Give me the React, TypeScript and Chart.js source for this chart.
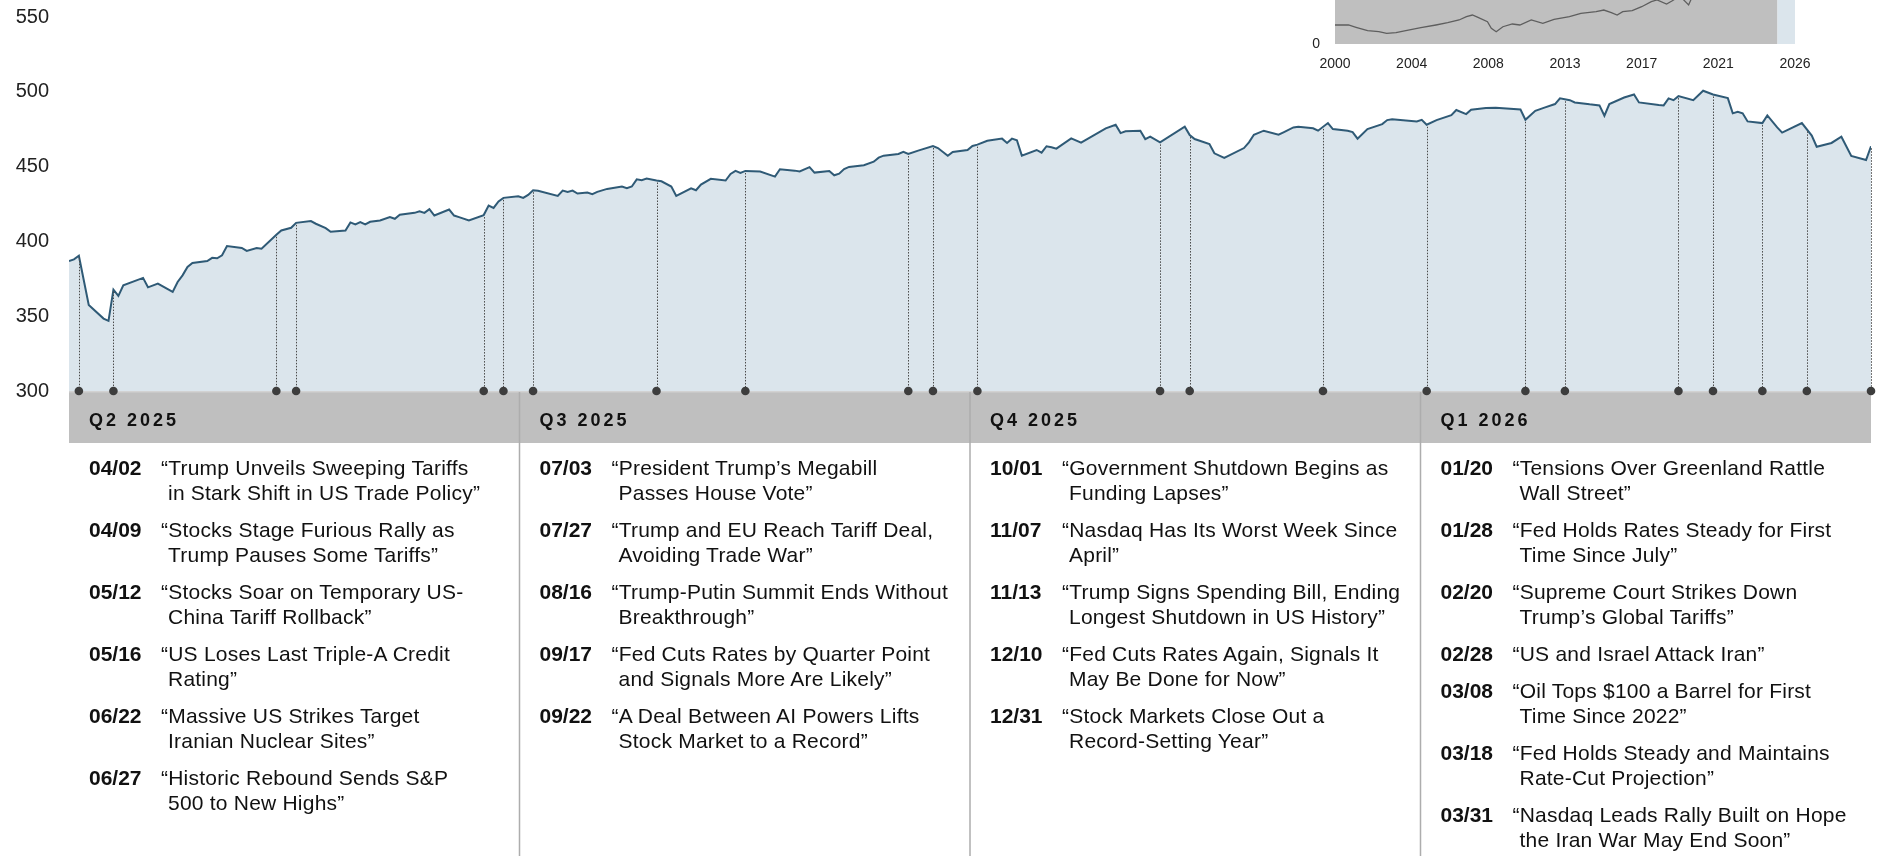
import React, { useEffect, useRef } from "react";
import { Chart, registerables } from "chart.js";

Chart.register(...registerables);

const FONT = '"Liberation Sans", Arial, Helvetica, sans-serif';

// ---------- main series ----------
const priceDates = [
  "2025-03-31","2025-04-01","2025-04-02","2025-04-04","2025-04-07","2025-04-08","2025-04-09","2025-04-10","2025-04-11","2025-04-15",
  "2025-04-16","2025-04-18","2025-04-21","2025-04-22","2025-04-23","2025-04-24","2025-04-25","2025-04-28","2025-04-29","2025-04-30",
  "2025-05-01","2025-05-02","2025-05-05","2025-05-06","2025-05-08","2025-05-09","2025-05-12","2025-05-13","2025-05-15","2025-05-16",
  "2025-05-19","2025-05-20","2025-05-22","2025-05-23","2025-05-26","2025-05-27","2025-05-28","2025-05-29","2025-05-30","2025-05-31",
  "2025-06-02","2025-06-04","2025-06-05","2025-06-06","2025-06-09","2025-06-10","2025-06-11","2025-06-12","2025-06-13","2025-06-16",
  "2025-06-17","2025-06-18","2025-06-20","2025-06-23","2025-06-24","2025-06-25","2025-06-26","2025-06-27","2025-06-30","2025-07-01",
  "2025-07-02","2025-07-03","2025-07-04","2025-07-08","2025-07-09","2025-07-10","2025-07-11","2025-07-12","2025-07-14","2025-07-15",
  "2025-07-16","2025-07-18","2025-07-21","2025-07-22","2025-07-23","2025-07-24","2025-07-25","2025-07-26","2025-07-28","2025-07-29",
  "2025-07-31","2025-08-01","2025-08-04","2025-08-05","2025-08-06","2025-08-08","2025-08-11","2025-08-12","2025-08-13","2025-08-14",
  "2025-08-15","2025-08-18","2025-08-21","2025-08-22","2025-08-25","2025-08-26","2025-08-28","2025-08-29","2025-09-01","2025-09-02",
  "2025-09-03","2025-09-04","2025-09-05","2025-09-08","2025-09-10","2025-09-11","2025-09-12","2025-09-15","2025-09-16","2025-09-17",
  "2025-09-19","2025-09-22","2025-09-23","2025-09-25","2025-09-26","2025-09-29","2025-09-30","2025-10-01","2025-10-03","2025-10-06",
  "2025-10-07","2025-10-08","2025-10-09","2025-10-10","2025-10-13","2025-10-14","2025-10-15","2025-10-16","2025-10-17","2025-10-20",
  "2025-10-22","2025-10-27","2025-10-29","2025-10-30","2025-10-31","2025-11-03","2025-11-04","2025-11-05","2025-11-07","2025-11-12",
  "2025-11-13","2025-11-14","2025-11-17","2025-11-18","2025-11-20","2025-11-24","2025-11-25","2025-11-26","2025-11-28","2025-12-01",
  "2025-12-02","2025-12-04","2025-12-05","2025-12-08","2025-12-09","2025-12-11","2025-12-12","2025-12-15","2025-12-16","2025-12-17",
  "2025-12-19","2025-12-22","2025-12-23","2025-12-24","2025-12-29","2025-12-30","2025-12-31","2026-01-02","2026-01-05","2026-01-06",
  "2026-01-08","2026-01-09","2026-01-12","2026-01-14","2026-01-19","2026-01-20","2026-01-22","2026-01-24","2026-01-26","2026-01-27",
  "2026-01-29","2026-01-30","2026-02-02","2026-02-04","2026-02-05","2026-02-06","2026-02-09","2026-02-11","2026-02-12","2026-02-16",
  "2026-02-17","2026-02-18","2026-02-19","2026-02-20","2026-02-23","2026-02-25","2026-02-27","2026-03-02","2026-03-03","2026-03-04",
  "2026-03-05","2026-03-06","2026-03-09","2026-03-10","2026-03-12","2026-03-13","2026-03-17","2026-03-19","2026-03-20","2026-03-23",
  "2026-03-25","2026-03-27","2026-03-30","2026-03-31"
];

const priceValues = [
  386.9,388.0,390.4,357.5,348.4,346.9,367.8,363.6,370.7,375.6,
  369.3,371.8,366.2,372.9,377.3,382.9,385.6,386.9,389.0,388.7,
  390.7,396.9,395.6,393.6,395.6,395.1,404.4,407.3,409.1,412.4,
  413.6,411.8,408.9,406.4,407.3,412.7,411.3,412.9,411.3,413.1,
  414.0,416.2,415.1,417.8,419.1,420.2,419.1,421.5,417.3,421.3,
  417.3,416.2,414.0,417.6,424.0,422.4,426.7,429.1,430.2,429.1,
  431.1,434.2,433.8,430.4,434.0,433.1,434.0,432.0,432.7,431.6,
  433.1,435.1,436.7,435.5,436.7,441.5,440.9,442.0,440.7,440.2,
  436.7,430.4,435.5,434.2,438.0,441.8,440.7,445.1,447.1,445.8,
  447.1,446.7,443.3,448.2,447.3,446.7,449.6,446.0,447.1,444.2,
  445.3,448.4,449.8,450.9,453.3,456.0,457.3,458.4,459.8,458.4,
  460.7,463.8,462.4,457.3,459.8,461.1,463.8,464.7,467.3,468.7,
  465.8,468.7,467.6,457.3,461.1,459.3,463.6,462.9,462.0,468.9,
  466.0,475.6,478.0,472.4,473.6,474.0,468.4,470.0,466.2,476.7,
  471.1,468.4,465.1,458.9,455.8,462.4,466.2,471.3,474.0,471.3,
  472.9,476.2,476.7,475.6,474.0,479.1,475.1,474.0,473.1,468.7,
  475.1,478.4,481.1,481.6,480.2,481.3,478.0,481.1,484.4,487.8,
  485.1,488.0,489.1,489.3,488.2,481.3,487.3,489.6,491.8,495.6,
  494.4,492.9,491.6,490.9,484.0,491.8,496.2,498.2,492.9,491.1,
  490.9,495.6,494.4,497.1,494.4,500.7,498.2,495.8,485.6,486.7,
  485.6,480.2,479.1,484.2,476.2,472.7,479.1,470.7,463.3,465.8,
  470.0,457.1,454.4,463.6
];

const yTickValues = [300, 350, 400, 450, 500, 550];

const quarterLabels = ["Q2 2025", "Q3 2025", "Q4 2025", "Q1 2026"];

// trading day where each event is marked on the chart
const eventPlotDates = [
  "2025-04-02","2025-04-09","2025-05-12","2025-05-16","2025-06-23","2025-06-27",
  "2025-07-03","2025-07-28","2025-08-15","2025-09-17","2025-09-22",
  "2025-10-01","2025-11-07","2025-11-13","2025-12-10","2025-12-31",
  "2026-01-20","2026-01-28","2026-02-20","2026-02-27","2026-03-09","2026-03-18","2026-03-31"
];
const eventLabels = [
  "04/02","04/09","05/12","05/16","06/22","06/27",
  "07/03","07/27","08/16","09/17","09/22",
  "10/01","11/07","11/13","12/10","12/31",
  "01/20","01/28","02/20","02/28","03/08","03/18","03/31"
];
const eventHeadlines = [
  "“Trump Unveils Sweeping Tariffs\nin Stark Shift in US Trade Policy”",
  "“Stocks Stage Furious Rally as\nTrump Pauses Some Tariffs”",
  "“Stocks Soar on Temporary US-\nChina Tariff Rollback”",
  "“US Loses Last Triple-A Credit\nRating”",
  "“Massive US Strikes Target\nIranian Nuclear Sites”",
  "“Historic Rebound Sends S&P\n500 to New Highs”",
  "“President Trump’s Megabill\nPasses House Vote”",
  "“Trump and EU Reach Tariff Deal,\nAvoiding Trade War”",
  "“Trump-Putin Summit Ends Without\nBreakthrough”",
  "“Fed Cuts Rates by Quarter Point\nand Signals More Are Likely”",
  "“A Deal Between AI Powers Lifts\nStock Market to a Record”",
  "“Government Shutdown Begins as\nFunding Lapses”",
  "“Nasdaq Has Its Worst Week Since\nApril”",
  "“Trump Signs Spending Bill, Ending\nLongest Shutdown in US History”",
  "“Fed Cuts Rates Again, Signals It\nMay Be Done for Now”",
  "“Stock Markets Close Out a\nRecord-Setting Year”",
  "“Tensions Over Greenland Rattle\nWall Street”",
  "“Fed Holds Rates Steady for First\nTime Since July”",
  "“Supreme Court Strikes Down\nTrump’s Global Tariffs”",
  "“US and Israel Attack Iran”",
  "“Oil Tops $100 a Barrel for First\nTime Since 2022”",
  "“Fed Holds Steady and Maintains\nRate-Cut Projection”",
  "“Nasdaq Leads Rally Built on Hope\nthe Iran War May End Soon”"
];
const eventQuarter = [0,0,0,0,0,0, 1,1,1,1,1, 2,2,2,2,2, 3,3,3,3,3,3,3];

// ---------- inset (long history) ----------
const insetYears = [
  2000.0,2000.77,2001.2,2001.86,2002.5,2002.95,2003.48,2004.04,2004.9,2005.76,
  2006.43,2007.08,2007.5,2007.84,2008.16,2008.7,2008.92,2009.2,2009.58,2010.12,
  2010.55,2011.2,2011.86,2012.5,2013.38,2014.03,2014.9,2015.34,2015.77,2016.1,
  2016.42,2016.96,2017.5,2018.05,2018.38,2018.92,2019.25,2019.68,2020.18,2020.43,
  2021.0,2022.0,2023.0,2024.0,2025.2
];
const insetValues = [
  39.6,39.6,34.8,27.7,25.6,22.3,23.5,27.7,34.0,39.6,
  44.4,50.0,56.9,60.4,55.6,46.5,32.7,25.6,36.0,41.7,
  39.6,50.0,43.1,51.5,56.9,64.0,67.3,70.8,65.2,60.4,
  67.3,69.4,77.7,88.1,91.7,83.3,90.2,100.0,81.3,102.0,
  115.0,150.0,130.0,165.0,190.0
];
const insetTickLabels = ["2000", "2004", "2008", "2013", "2017", "2021", "2026"];
const insetYTicks = [0, 100];

// ---------- helpers ----------
const START = Date.UTC(2025, 2, 31);
const dayOf = (iso: string) => {
  const [y, m, d] = iso.split("-").map(Number);
  return Math.round((Date.UTC(y, m - 1, d) - START) / 86400000);
};
const pricePoints = priceDates.map((d, i) => ({ x: dayOf(d), y: priceValues[i] }));
const valueAt = (day: number) => {
  for (let i = 1; i < pricePoints.length; i++) {
    const a = pricePoints[i - 1], b = pricePoints[i];
    if (day <= b.x) {
      const t = (day - a.x) / (b.x - a.x || 1);
      return a.y + t * (b.y - a.y);
    }
  }
  return pricePoints[pricePoints.length - 1].y;
};

const LINE = "#2f5a76";
const FILL = "#dbe5ec";
const BAND = "#bfbfbf";
const BAND_H = 52;

const mainPlugin = {
  id: "bandAndConnectors",
  beforeDatasetsDraw(chart: any) {
    const { ctx, chartArea } = chart;
    const { left, right, bottom } = chartArea;
    ctx.save();
    ctx.fillStyle = BAND;
    ctx.fillRect(left, bottom, right - left, BAND_H);
    ctx.fillStyle = "#d2d2d2";
    ctx.fillRect(left, bottom, right - left, 1.5);
    const w = (right - left) / 4;
    ctx.strokeStyle = "#adadad";
    ctx.lineWidth = 1.5;
    for (let i = 1; i < 4; i++) {
      const x = left + i * w;
      ctx.beginPath();
      ctx.moveTo(x, bottom + 1);
      ctx.lineTo(x, chart.height);
      ctx.stroke();
    }
    ctx.restore();
  },
  afterDatasetDraw(chart: any, args: any) {
    if (args.index !== 0) return;
    const { ctx, chartArea, scales } = chart;
    ctx.save();
    ctx.strokeStyle = "#4a4a4a";
    ctx.lineWidth = 1;
    ctx.setLineDash([1.5, 1.5]);
    eventPlotDates.forEach((d) => {
      const day = dayOf(d);
      const x = Math.round(scales.x.getPixelForValue(day)) + 0.5;
      const y = scales.y.getPixelForValue(valueAt(day)) + 2;
      ctx.beginPath();
      ctx.moveTo(x, y);
      ctx.lineTo(x, chartArea.bottom);
      ctx.stroke();
    });
    ctx.restore();
  },
};

const insetPlugin = {
  id: "insetBg",
  beforeDatasetsDraw(chart: any) {
    const { ctx, chartArea, scales } = chart;
    const xs = scales.x;
    const cut = xs.getPixelForValue(2025.25);
    ctx.save();
    ctx.fillStyle = BAND;
    ctx.fillRect(chartArea.left, chartArea.top, cut - chartArea.left, chartArea.bottom - chartArea.top);
    ctx.fillStyle = FILL;
    ctx.fillRect(cut, chartArea.top, chartArea.right - cut, chartArea.bottom - chartArea.top);
    ctx.restore();
  },
};

export default function App() {
  const mainRef = useRef<HTMLCanvasElement>(null);
  const insetRef = useRef<HTMLCanvasElement>(null);

  useEffect(() => {
    const main = new Chart(mainRef.current as HTMLCanvasElement, {
      type: "line",
      data: {
        datasets: [
          {
            type: "line",
            data: pricePoints,
            borderColor: LINE,
            borderWidth: 2,
            backgroundColor: FILL,
            fill: "start",
            pointRadius: 0,
            tension: 0,
            order: 2,
          } as any,
          {
            type: "scatter",
            data: eventPlotDates.map((d) => ({ x: dayOf(d), y: 300 })),
            pointRadius: 4.3,
            pointBackgroundColor: "#3d3d3d",
            pointBorderWidth: 0,
            clip: false,
            order: 0,
          } as any,
        ],
      },
      options: {
        responsive: false,
        maintainAspectRatio: false,
        animation: false,
        layout: { padding: { top: 17, right: 6, bottom: 465, left: 0 } },
        plugins: { legend: { display: false }, tooltip: { enabled: false } },
        scales: {
          x: { type: "linear", min: 0, max: 365, display: false },
          y: {
            min: 300,
            max: 550,
            afterBuildTicks: (s: any) => {
              s.ticks = yTickValues.map((v) => ({ value: v }));
            },
            afterFit: (s: any) => {
              s.width = 69;
            },
            grid: { display: false, drawTicks: true, tickLength: 20 },
            border: { display: false },
            ticks: { padding: 0, color: "#222", font: { family: FONT, size: 20 } },
          },
        },
      } as any,
      plugins: [mainPlugin],
    });

    const inset = new Chart(insetRef.current as HTMLCanvasElement, {
      type: "line",
      data: {
        datasets: [
          {
            data: insetYears.map((x, i) => ({ x, y: insetValues[i] })),
            borderColor: "#5e5e5e",
            borderWidth: 1.3,
            pointRadius: 0,
            fill: false,
            tension: 0,
          },
        ],
      },
      options: {
        responsive: false,
        maintainAspectRatio: false,
        animation: false,
        layout: { padding: { top: 20, right: 82, bottom: 0, left: 0 } },
        plugins: { legend: { display: false }, tooltip: { enabled: false } },
        scales: {
          x: {
            type: "linear",
            min: 2000,
            max: 2026.25,
            afterBuildTicks: (s: any) => {
              s.ticks = insetTickLabels.map((_, i) => ({ value: 2000 + i * 4.375 }));
            },
            afterFit: (s: any) => {
              s.height = 36;
            },
            grid: { display: false, drawTicks: false },
            border: { display: false },
            ticks: {
              padding: 12,
              autoSkip: false,
              maxRotation: 0,
              color: "#222",
              font: { family: FONT, size: 14 },
              callback: (_v: any, i: number) => insetTickLabels[i],
            },
          },
          y: {
            min: 0,
            max: 300,
            afterBuildTicks: (s: any) => {
              s.ticks = insetYTicks.map((v) => ({ value: v }));
            },
            afterFit: (s: any) => {
              s.width = 55;
            },
            grid: { display: false, drawTicks: true, tickLength: 15 },
            border: { display: false },
            ticks: { padding: 0, color: "#222", font: { family: FONT, size: 14 } },
          },
        },
      } as any,
      plugins: [insetPlugin],
    });

    return () => {
      main.destroy();
      inset.destroy();
    };
  }, []);

  const qLeft = (i: number) => 69 + i * ((1871 - 69) / 4) + 20;

  return (
    <div
      style={{
        position: "absolute",
        left: 0,
        top: 0,
        width: 1877,
        height: 856,
        overflow: "hidden",
        background: "#fff",
        fontFamily: FONT,
        color: "#111",
      }}
    >
      <canvas ref={mainRef} width={1877} height={856} style={{ position: "absolute", left: 0, top: 0, width: 1877, height: 856 }} />
      <canvas ref={insetRef} width={597} height={200} style={{ position: "absolute", left: 1280, top: -120, width: 597, height: 200 }} />
      {quarterLabels.map((q, i) => (
        <div
          key={q}
          style={{
            position: "absolute",
            left: qLeft(i),
            top: 394,
            height: BAND_H,
            lineHeight: BAND_H + "px",
            fontSize: 18,
            fontWeight: "bold",
            letterSpacing: 3,
            color: "#111",
            whiteSpace: "pre",
          }}
        >
          {q}
        </div>
      ))}
      {quarterLabels.map((q, qi) => (
        <div key={"col" + q} style={{ position: "absolute", left: qLeft(qi), top: 455, fontSize: 21, lineHeight: "25px" }}>
          {eventLabels.map((lab, i) =>
            eventQuarter[i] !== qi ? null : (
              <div key={lab} style={{ display: "flex", marginBottom: 12 }}>
                <div style={{ width: 72, flex: "none", fontWeight: "bold", color: "#111" }}>{lab}</div>
                <div style={{ whiteSpace: "pre", paddingLeft: 7, textIndent: -7, letterSpacing: 0.22, color: "#111" }}>
                  {eventHeadlines[i]}
                </div>
              </div>
            )
          )}
        </div>
      ))}
    </div>
  );
}
